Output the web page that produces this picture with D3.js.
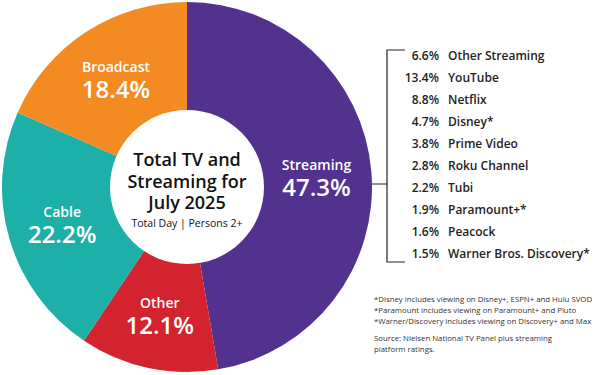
<!DOCTYPE html>
<html>
<head>
<meta charset="utf-8">
<script src="https://cdn.jsdelivr.net/npm/d3@7"></script>
<style>
  body { margin: 0; background: #fff; }
  svg { font-family: "Open Sans", sans-serif; display: block; }
</style>
</head>
<body>
<svg id="chart" width="600" height="375"></svg>
<script>
let segments = ["Streaming", "Other", "Cable", "Broadcast"],
  shares = [47.3, 12.1, 22.2, 18.4],
  colors = ["#52318f", "#d2232f", "#1cb0a8", "#f48b22"];

let services = ["Other Streaming", "YouTube", "Netflix", "Disney*", "Prime Video",
                "Roku Channel", "Tubi", "Paramount+*", "Peacock", "Warner Bros. Discovery*"],
  serviceShares = [6.6, 13.4, 8.8, 4.7, 3.8, 2.8, 2.2, 1.9, 1.6, 1.5];

let titleLines = ["Total TV and", "Streaming for", "July 2025"],
  subtitle = "Total Day | Persons 2+",
  notes = ["*Disney includes viewing on Disney+, ESPN+ and Hulu SVOD",
           "*Paramount includes viewing on Paramount+ and Pluto",
           "*Warner/Discovery includes viewing on Discovery+ and Max"],
  source = ["Source: Nielsen National TV Panel plus streaming", "platform ratings."];

let cx = 187, cy = 187, outer = 185, inner = 77;
let svg = d3.select("#chart");

function draw_pie() {
  let data = segments.map((s, i) => ({name: s, value: shares[i], color: colors[i]}));
  let pie = d3.pie().sort(null).value(d => d.value);
  let arc = d3.arc().innerRadius(0).outerRadius(outer);
  let labelArc = d3.arc().innerRadius(130).outerRadius(130);

  let g = svg.append("g").attr("transform", `translate(${cx}, ${cy})`);
  let arcs = pie(data);
  g.selectAll("path")
    .data(arcs).enter()
    .append("path")
    .attr("d", arc)
    .attr("fill", d => d.data.color);

  g.append("circle").attr("r", inner).attr("fill", "#fff");

  let labels = g.selectAll("g.lbl")
    .data(arcs).enter()
    .append("g")
    .attr("class", "lbl")
    .attr("transform", d => `translate(${labelArc.centroid(d)})`);
  labels.append("text")
    .attr("y", -6)
    .attr("text-anchor", "middle")
    .attr("fill", "#fff")
    .attr("font-size", 14)
    .attr("font-weight", 600)
    .text(d => d.data.name);
  labels.append("text")
    .attr("y", 20)
    .attr("text-anchor", "middle")
    .attr("fill", "#fff")
    .attr("font-size", 24)
    .attr("font-weight", 600)
    .text(d => d.data.value.toFixed(1) + "%");

  g.selectAll("text.title")
    .data(titleLines).enter()
    .append("text")
    .attr("class", "title")
    .attr("text-anchor", "middle")
    .attr("y", (d, i) => -21 + i * 21.5)
    .attr("font-size", 18)
    .attr("font-weight", 600)
    .attr("fill", "#111")
    .text(d => d);
  g.append("text")
    .attr("text-anchor", "middle")
    .attr("y", 40)
    .attr("font-size", 10.5)
    .attr("fill", "#111")
    .text(subtitle);
}

function draw_legend() {
  let y = d3.scaleBand().domain(services).range([45, 264]);
  let g = svg.append("g");
  let bx = 387;

  g.append("path")
    .attr("d", `M${bx + 18},${y.range()[0] + 5}H${bx}V${y.range()[1] - 2}H${bx + 18}M${cx + outer},184H${bx}`)
    .attr("fill", "none")
    .attr("stroke", "#222")
    .attr("stroke-width", 1.2);

  let rows = g.selectAll("g.row")
    .data(services).enter()
    .append("g")
    .attr("class", "row")
    .attr("transform", d => `translate(0, ${y(d) + y.bandwidth() / 2 + 4.5})`);
  rows.append("text")
    .attr("x", 439)
    .attr("text-anchor", "end")
    .attr("font-size", 12)
    .attr("font-weight", 600)
    .attr("fill", "#222")
    .text((d, i) => serviceShares[i].toFixed(1) + "%");
  rows.append("text")
    .attr("x", 448)
    .attr("font-size", 12)
    .attr("font-weight", 600)
    .attr("fill", "#222")
    .text(d => d);
}

function draw_notes() {
  let g = svg.append("g").attr("font-size", 7.8).attr("fill", "#333");
  g.selectAll("text.note")
    .data(notes).enter()
    .append("text")
    .attr("x", 374)
    .attr("y", (d, i) => 302 + i * 11)
    .text(d => d);
  g.selectAll("text.src")
    .data(source).enter()
    .append("text")
    .attr("x", 374)
    .attr("y", (d, i) => 341 + i * 11)
    .text(d => d);
}

draw_pie();
draw_legend();
draw_notes();
</script>
</body>
</html>
